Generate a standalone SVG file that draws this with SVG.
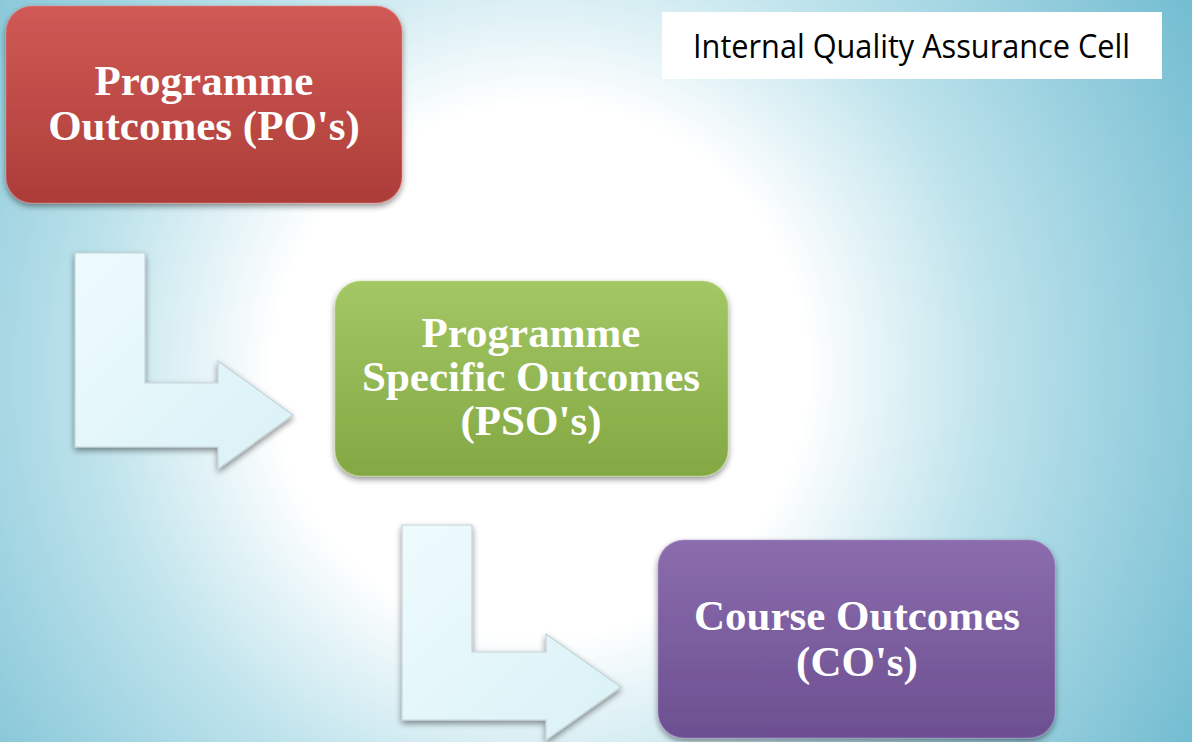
<svg xmlns="http://www.w3.org/2000/svg" width="1192" height="742" viewBox="0 0 1192 742">
<defs>
<radialGradient id="bg" gradientUnits="userSpaceOnUse" cx="540" cy="370" r="760">
<stop offset="0" stop-color="#ffffff"/>
<stop offset="0.35" stop-color="#ffffff"/>
<stop offset="0.6" stop-color="#bce2eb"/>
<stop offset="1" stop-color="#70bbd0"/>
</radialGradient>
<linearGradient id="gRed" x1="0" y1="0" x2="0" y2="1">
<stop offset="0" stop-color="#d05a55"/>
<stop offset="1" stop-color="#ac3c38"/>
</linearGradient>
<linearGradient id="gGreen" x1="0" y1="0" x2="0" y2="1">
<stop offset="0" stop-color="#a3c764"/>
<stop offset="1" stop-color="#83a843"/>
</linearGradient>
<linearGradient id="gPurple" x1="0" y1="0" x2="0" y2="1">
<stop offset="0" stop-color="#8b6dae"/>
<stop offset="1" stop-color="#6c4f90"/>
</linearGradient>
<linearGradient id="gArrow" x1="0" y1="0" x2="1" y2="1">
<stop offset="0" stop-color="#eefbfe"/>
<stop offset="1" stop-color="#d9f1f6"/>
</linearGradient>
<filter id="shadow" x="-10%" y="-10%" width="120%" height="130%">
<feGaussianBlur in="SourceAlpha" stdDeviation="3"/>
<feOffset dx="0" dy="3" result="b"/>
<feComponentTransfer><feFuncA type="linear" slope="0.45"/></feComponentTransfer>
<feMerge><feMergeNode/><feMergeNode in="SourceGraphic"/></feMerge>
</filter>
</defs>
<style>
.box{stroke-width:1.5;stroke-opacity:0.35;filter:url(#shadow);}
.lbl{font-family:"Liberation Serif","Times New Roman",serif;font-weight:bold;font-size:43px;fill:#ffffff;text-anchor:middle;}
.arrow{fill:url(#gArrow);stroke:#c5d3d7;stroke-width:1.2;filter:url(#shadow);}
.hdr{font-family:"Open Sans","Noto Sans",sans-serif;font-size:33px;fill:#000000;}
</style>
<rect x="0" y="0" width="1192" height="742" fill="url(#bg)"/>
<g id="header">
<rect x="662" y="12" width="500" height="67" fill="#ffffff"/>
<text class="hdr" x="693" y="58" textLength="437" lengthAdjust="spacingAndGlyphs">Internal Quality Assurance Cell</text>
</g>
<g id="connectors">
<path class="arrow" d="M75,253 H145 V383 H218 V361 L293,415 L218,469 V447 H75 Z"/>
<path class="arrow" d="M402,525 H472 V652 H546 V634 L621,687 L546,740 V720 H402 Z"/>
</g>
<g id="po">
<rect class="box" x="6" y="6" width="396" height="197" rx="26" fill="url(#gRed)" stroke="#e88a86"/>
<text class="lbl" x="204" y="95">Programme</text>
<text class="lbl" x="204" y="140">Outcomes (PO's)</text>
</g>
<g id="pso">
<rect class="box" x="335" y="281" width="393" height="195" rx="26" fill="url(#gGreen)" stroke="#c4e08e"/>
<text class="lbl" x="531" y="347">Programme</text>
<text class="lbl" x="531" y="391">Specific Outcomes</text>
<text class="lbl" x="531" y="435">(PSO's)</text>
</g>
<g id="co">
<rect class="box" x="658" y="540" width="397" height="198" rx="26" fill="url(#gPurple)" stroke="#ad93cc"/>
<text class="lbl" x="857" y="630">Course Outcomes</text>
<text class="lbl" x="857" y="676">(CO's)</text>
</g>
</svg>
